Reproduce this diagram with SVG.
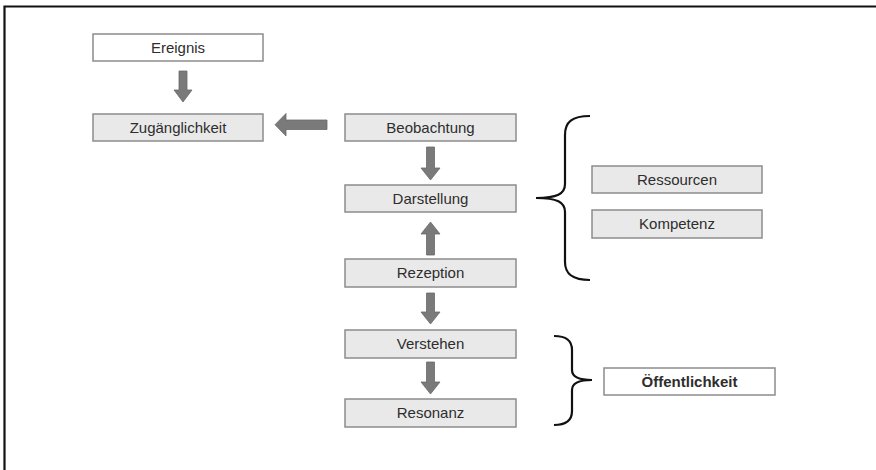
<svg xmlns="http://www.w3.org/2000/svg" width="876" height="470" viewBox="0 0 876 470">
<style>
.box{fill:#e9e9e9;stroke:#8c8c8c;stroke-width:1.5}
.wbox{fill:#ffffff;stroke:#8c8c8c;stroke-width:1.5}
.t{font-family:"Liberation Sans",Arial,sans-serif;font-size:15px;fill:#2e2e2e;text-anchor:middle}
.b{font-weight:bold}
.arr{fill:#7a7a7a;stroke:#6a6a6a;stroke-width:0.8}
.brace{fill:none;stroke:#111;stroke-width:2.2}
</style>
<rect width="876" height="470" fill="#fff"/>
<path d="M4.5 470 V6.5 H876" fill="none" stroke="#111" stroke-width="2.2"/>
<g id="ereignis"><rect class="wbox" x="93" y="34" width="170" height="27"/><text class="t" x="178" y="53">Ereignis</text></g>
<g id="zugaenglichkeit"><rect class="box" x="93" y="114" width="170" height="27"/><text class="t" x="178" y="133">Zugänglichkeit</text></g>
<g id="beobachtung"><rect class="box" x="345" y="114" width="171" height="27"/><text class="t" x="430.5" y="133">Beobachtung</text></g>
<g id="darstellung"><rect class="box" x="345" y="185" width="171" height="27"/><text class="t" x="430.5" y="204">Darstellung</text></g>
<g id="rezeption"><rect class="box" x="345" y="259" width="171" height="28"/><text class="t" x="430.5" y="278">Rezeption</text></g>
<g id="verstehen"><rect class="box" x="345" y="330" width="171" height="28"/><text class="t" x="430.5" y="349">Verstehen</text></g>
<g id="resonanz"><rect class="box" x="345" y="399" width="171" height="28"/><text class="t" x="430.5" y="418">Resonanz</text></g>
<g id="ressourcen"><rect class="box" x="592" y="166" width="170" height="27"/><text class="t" x="677" y="185">Ressourcen</text></g>
<g id="kompetenz"><rect class="box" x="592" y="210" width="170" height="28"/><text class="t" x="677" y="229">Kompetenz</text></g>
<g id="oeffentlichkeit"><rect class="wbox" x="604" y="368" width="171" height="27"/><text class="t b" x="689.5" y="387">Öffentlichkeit</text></g>
<g id="connectors">
<path class="arr" d="M179 71 H187 V90 H192 L183 102 L174 90 H179 Z"/>
<path class="arr" d="M327 120 V129.5 H286 V136 L275 124.75 L286 113.5 V120 Z"/>
<path class="arr" d="M426.5 147 H434.5 V168 H440 L430.5 180 L421 168 H426.5 Z"/>
<path class="arr" d="M426.5 255 H434.5 V234 H440 L430.5 222 L421 234 H426.5 Z"/>
<path class="arr" d="M426.5 293 H434.5 V312 H440 L430.5 324 L421 312 H426.5 Z"/>
<path class="arr" d="M426.5 362 H434.5 V382 H440 L430.5 394 L421 382 H426.5 Z"/>
<path class="brace" d="M590 116 C572 116 565 122 565 135 V184 C565 194 557 198 536 198 C557 198 565 202 565 212 V262 C565 274 572 280 590 280"/>
<path class="brace" d="M554 336 C566 336 572 340 572 350 V370 C572 377 578 380 592 380 C578 380 572 383 572 390 V411 C572 420 566 425 554 425"/>
</g>
</svg>
